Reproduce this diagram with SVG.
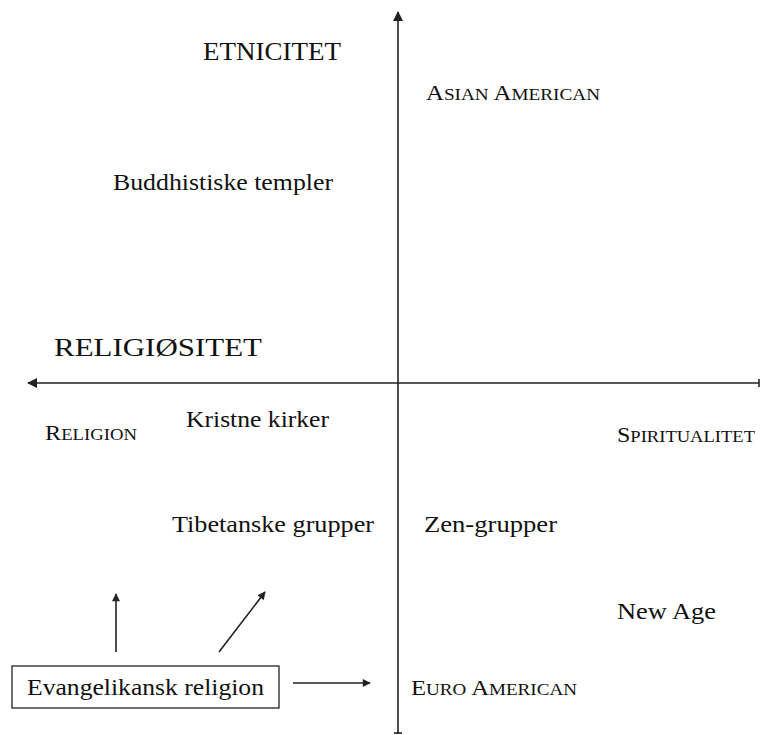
<svg xmlns="http://www.w3.org/2000/svg" width="761" height="735" viewBox="0 0 761 735">
<style>
text{font-family:"Liberation Serif","DejaVu Serif",serif;fill:#111;}
.b{font-size:24px;}
.h{font-size:26px;}
.sc{font-size:22px;}
.sm{font-size:17px;}
.ln{stroke:#222;stroke-width:1.6;fill:none;}
</style>
<defs>
<marker id="ah" viewBox="0 0 10 10" refX="9" refY="5" markerWidth="9" markerHeight="8" orient="auto" markerUnits="userSpaceOnUse">
<path d="M0,0 L10,5 L0,10 z" fill="#222"/>
</marker>
<marker id="ahb" viewBox="0 0 10 10" refX="9" refY="5" markerWidth="12" markerHeight="10" orient="auto" markerUnits="userSpaceOnUse">
<path d="M0,0 L10,5 L0,10 z" fill="#222"/>
</marker>
</defs>
<g id="connectors">
<line class="ln" x1="398" y1="734" x2="398" y2="12" marker-end="url(#ahb)"/>
<line class="ln" x1="394" y1="733" x2="402" y2="733"/>
<line class="ln" x1="759" y1="383" x2="28" y2="383" marker-end="url(#ahb)"/>
<line class="ln" x1="759" y1="379" x2="759" y2="387"/>
<line class="ln" x1="116" y1="652" x2="116" y2="594" marker-end="url(#ah)"/>
<line class="ln" x1="219" y1="652" x2="265" y2="592" marker-end="url(#ah)"/>
<line class="ln" x1="293" y1="683" x2="370" y2="683" marker-end="url(#ah)"/>
</g>
<g id="etnicitet"><text class="h" x="203" y="60" textLength="138" lengthAdjust="spacingAndGlyphs">ETNICITET</text></g>
<g id="asian-american"><text class="sc" x="426" y="100" textLength="174" lengthAdjust="spacingAndGlyphs">A<tspan class="sm">SIAN</tspan> A<tspan class="sm">MERICAN</tspan></text></g>
<g id="buddhistiske"><text class="b" x="113" y="190" textLength="220" lengthAdjust="spacingAndGlyphs">Buddhistiske templer</text></g>
<g id="religiositet"><text class="h" x="54" y="356" textLength="208" lengthAdjust="spacingAndGlyphs">RELIGIØSITET</text></g>
<g id="religion"><text class="sc" x="45" y="440" textLength="92" lengthAdjust="spacingAndGlyphs">R<tspan class="sm">ELIGION</tspan></text></g>
<g id="kristne"><text class="b" x="186" y="427" textLength="143" lengthAdjust="spacingAndGlyphs">Kristne kirker</text></g>
<g id="spiritualitet"><text class="sc" x="617" y="442" textLength="138" lengthAdjust="spacingAndGlyphs">S<tspan class="sm">PIRITUALITET</tspan></text></g>
<g id="tibetanske"><text class="b" x="172" y="532" textLength="202" lengthAdjust="spacingAndGlyphs">Tibetanske grupper</text></g>
<g id="zen"><text class="b" x="424" y="532" textLength="133" lengthAdjust="spacingAndGlyphs">Zen-grupper</text></g>
<g id="newage"><text class="b" x="617" y="619" textLength="99" lengthAdjust="spacingAndGlyphs">New Age</text></g>
<g id="evangelikansk">
<rect x="12" y="666" width="267" height="42" fill="#fff" stroke="#222" stroke-width="1.3"/>
<text class="b" x="27" y="695" textLength="237" lengthAdjust="spacingAndGlyphs">Evangelikansk religion</text>
</g>
<g id="euro-american"><text class="sc" x="411" y="695" textLength="166" lengthAdjust="spacingAndGlyphs">E<tspan class="sm">URO</tspan> A<tspan class="sm">MERICAN</tspan></text></g>
</svg>
